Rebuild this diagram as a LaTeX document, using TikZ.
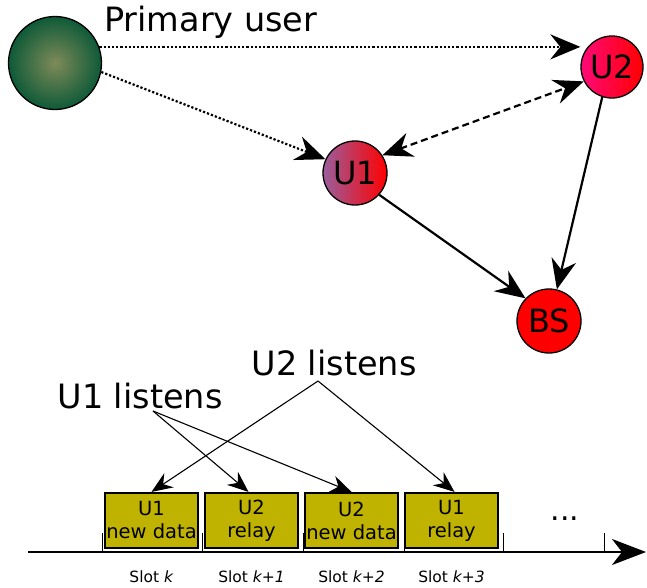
\documentclass[tikz,border=0pt]{standalone}
\usepackage{fontspec}
\setmainfont{DejaVu Sans}
\usetikzlibrary{arrows.meta}
\definecolor{puinner}{HTML}{7E8A58}
\definecolor{puouter}{HTML}{0E5A38}
\definecolor{uonel}{HTML}{9A5E9C}
\definecolor{utwol}{HTML}{FF0A78}
\definecolor{slotfill}{HTML}{BFB300}

\begin{document}
\begin{tikzpicture}[
		x=1pt, y=-1pt
		,every node/.append style={inner sep=0pt}
		,user/.style={circle, draw, line width=1.3pt, font=\fontsize{32}{34}\selectfont}
		,slotbox/.style={rectangle, draw, line width=2.2pt, fill=slotfill, minimum width=93pt, minimum height=55pt, align=center, font=\fontsize{19.5}{23}\selectfont}
		,big/.style={font=\fontsize{33.5}{35}\selectfont}
		,tip/.style={-{Stealth[length=30pt,width=25pt,inset=10pt]}}
		,thintip/.style={-{Stealth[length=21pt,width=17pt,inset=7pt]}}
		,link/.style={tip, line width=2.2pt}
	]
		\useasboundingbox (0,0) rectangle (647,587);
		% users
		\node [user, minimum size=93pt, inner color=puinner, outer color=puouter] (pu) at (55,63) {};
		\node [big, anchor=west] (putext) at (104,22) {Primary user};
		\node [user, minimum size=62pt, left color=utwol, right color=red] (u2) at (612,67) {U2};
		\node [user, minimum size=64pt, left color=uonel, right color=red] (u1) at (355,173) {U1};
		\node [user, minimum size=64pt, fill=red] (bs) at (549,321) {BS};
		% links
		\draw [link, dotted] (pu.20) -- (pu.20 -| u2.west);
		\draw [link, dotted] (pu.-11) -- (u1.155);
		\draw [link, dash pattern=on 7pt off 4pt, {Stealth[length=30pt,width=25pt,inset=10pt]}-{Stealth[length=30pt,width=25pt,inset=10pt]}] (u1.33) -- (u2.207);
		\draw [link] (u2.-108) -- (bs.76);
		\draw [link] (u1.-42) -- (bs.136);
		% slots
		\foreach \i/\x/\txt in {1/151.5/U1\\new data, 2/251.5/U2\\relay, 3/351.5/U2\\new data, 4/451.5/U1\\relay}
			\node [slotbox] (s\i) at (\x,520.5) {\txt};
		\coordinate (t0) at (28,552);
		\coordinate (t1) at (646,552);
		\draw [line width=2.2pt, -{Stealth[length=34pt,width=26pt,inset=10pt]}] (t0) -- (t1);
		\foreach \x in {102,202,303,404,503,604}
			\draw [line width=0.9pt] (\x,533) -- (\x,552);
		\node [font=\fontsize{30}{32}\selectfont] (dots) at (565,519) {...};
		\foreach \i/\x/\txt in {1/151.5/\textit{k}, 2/251.5/\textit{k+1}, 3/351.5/\textit{k+2}, 4/451.5/\textit{k+3}}
			\node [font=\fontsize{15.5}{17}\selectfont] (l\i) at (\x,577) {Slot \txt};
		% listeners
		\node [big] (u2lis) at (334,363) {U2 listens};
		\node [big] (u1lis) at (140,396) {U1 listens};
		\coordinate (u2src) at (318,381);
		\coordinate (u1src) at (153,411);
		\draw [thintip, line width=1.1pt] (u2src) -- (s1.north);
		\draw [thintip, line width=1.1pt] (u2src) -- ([xshift=3pt]s4.north);
		\draw [thintip, line width=1.1pt] (u1src) -- ([xshift=-3pt]s2.north);
		\draw [thintip, line width=1.1pt] (u1src) -- (s3.north);
	\end{tikzpicture}
\end{document}
